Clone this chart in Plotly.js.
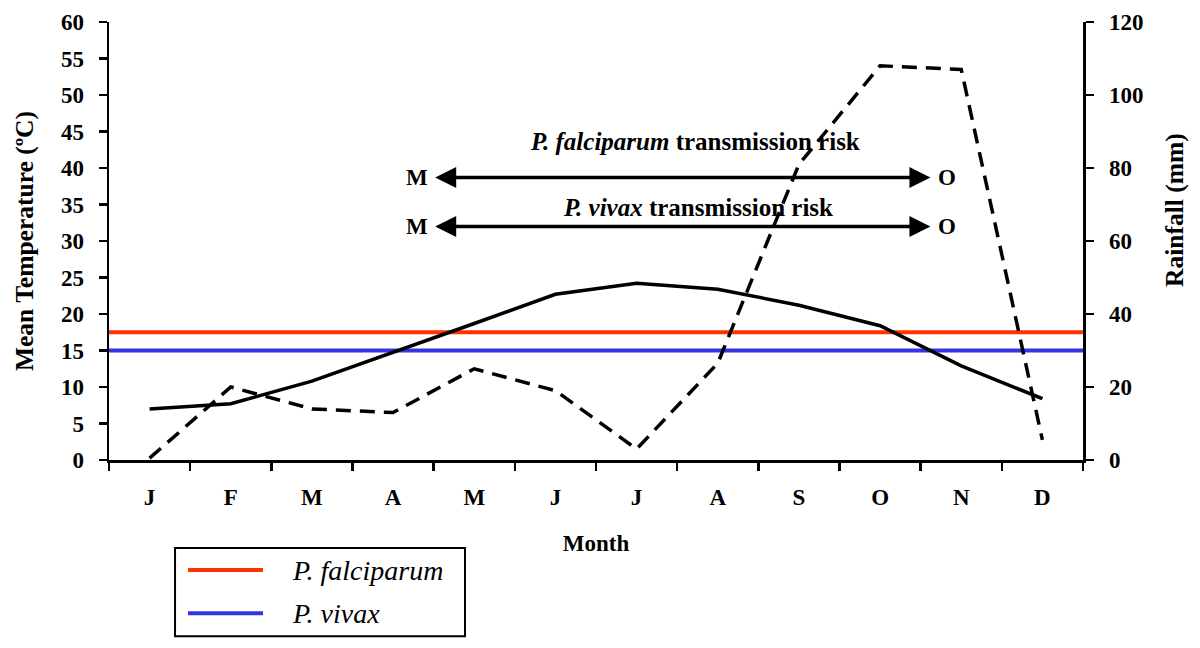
<!DOCTYPE html>
<html>
<head>
<meta charset="utf-8">
<script src="https://cdn.plot.ly/plotly-3.0.1.min.js"></script>
<style>html,body{margin:0;padding:0;background:#fff;}#chart{width:1200px;height:648px;}</style>
</head>
<body>
<div id="chart"></div>
<script>
// ---- data ----
var months = ['J','F','M','A','M','J','J','A','S','O','N','D'];
var meanTemperature = [7.0, 7.7, 10.8, 14.7, 18.7, 22.7, 24.2, 23.4, 21.2, 18.4, 12.9, 8.4];
var rainfall = [0.5, 20, 14, 13, 25, 19, 3, 26.5, 81, 108, 107, 5.5];
var thresholdNames = ['P. falciparum', 'P. vivax'];
var thresholdTemps = [17.5, 15];
var riskLabels = ['P. falciparum', 'P. vivax'];
var riskStart = 'M';
var riskEnd = 'O';
var leftTitle = 'Mean Temperature (ºC)';
var rightTitle = 'Rainfall (mm)';
var bottomTitle = 'Month';

var FONT = 'Liberation Serif, Times New Roman, serif';
var RED = '#ff3300', BLUE = '#3434e6';
var xIdx = months.map(function(_, i){ return i; });
var bounds = []; for (var b = 0; b <= months.length; b++) bounds.push(b - 0.5);
var xr = [-0.5, months.length - 0.5];

var traces = [
  {x: [xr[0], xr[1]], y: [thresholdTemps[0], thresholdTemps[0]], mode: 'lines', name: thresholdNames[0],
   line: {color: RED, width: 4}, showlegend: false, hoverinfo: 'skip'},
  {x: [xr[0], xr[1]], y: [thresholdTemps[1], thresholdTemps[1]], mode: 'lines', name: thresholdNames[1],
   line: {color: BLUE, width: 4}, showlegend: false, hoverinfo: 'skip'},
  {x: xIdx, y: meanTemperature, mode: 'lines', name: 'Mean Temperature',
   line: {color: '#000', width: 3.5}, showlegend: false},
  {x: xIdx, y: rainfall, mode: 'lines', name: 'Rainfall', yaxis: 'y2',
   line: {color: '#000', width: 3.5, dash: '15px,9px'}, showlegend: false}
];

var tickFont = {family: FONT, size: 23, color: '#000', weight: 'bold'};
var titleFont = {family: FONT, size: 23, color: '#000', weight: 'bold'};
var sideTitleFont = {family: FONT, size: 25.5, color: '#000', weight: 'bold'};
var annFont = {family: FONT, size: 25, color: '#000', weight: 'bold'};

// arrows / labels
var rows = [{y: 38.7, ty: 43.6, tx: 6.72}, {y: 32.0, ty: 34.6, tx: 6.76}];
var annotations = [];
rows.forEach(function(r, i){
  annotations.push({x: 9.62, y: r.y, ax: 3.5, ay: r.y, xref: 'x', yref: 'y', axref: 'x', ayref: 'y',
    text: '', showarrow: true, arrowside: 'end+start', arrowhead: 2, arrowsize: 1.2, arrowwidth: 3.5,
    arrowcolor: '#000', standoff: 0, startstandoff: 0});
  annotations.push({x: 3.3, y: r.y, xref: 'x', yref: 'y', text: '<b>' + riskStart + '</b>', showarrow: false,
    font: tickFont, xanchor: 'center', yanchor: 'middle'});
  annotations.push({x: 9.83, y: r.y, xref: 'x', yref: 'y', text: '<b>' + riskEnd + '</b>', showarrow: false,
    font: tickFont, xanchor: 'center', yanchor: 'middle'});
  annotations.push({x: r.tx, y: r.ty, xref: 'x', yref: 'y', text: '<b><i>' + riskLabels[i] + '</i> transmission risk</b>',
    showarrow: false, font: annFont, xanchor: 'center', yanchor: 'middle'});
});

// right-axis title (sits above the axis centre in the original)
annotations.push({x: 1.0945, y: 0.571, xref: 'paper', yref: 'paper', text: '<b>' + rightTitle + '</b>',
  textangle: -90, showarrow: false, xanchor: 'center', yanchor: 'middle', font: sideTitleFont});

// manual legend
var shapes = [
  {type: 'rect', xref: 'paper', yref: 'paper', x0: 0.0678, x1: 0.3655, y0: -0.2011, y1: -0.4023,
   line: {color: '#000', width: 2}, fillcolor: 'rgba(0,0,0,0)'},
  {type: 'line', xref: 'paper', yref: 'paper', x0: 0.0811, x1: 0.1581, y0: -0.2514, y1: -0.2514,
   line: {color: RED, width: 4}},
  {type: 'line', xref: 'paper', yref: 'paper', x0: 0.0811, x1: 0.1581, y0: -0.3497, y1: -0.3497,
   line: {color: BLUE, width: 4}}
];
var legFont = {family: FONT, size: 28, color: '#000', style: 'italic'};
annotations.push({x: 0.1858, y: -0.2514, xref: 'paper', yref: 'paper', text: '<i>' + thresholdNames[0] + '</i>',
  showarrow: false, xanchor: 'left', yanchor: 'middle', font: legFont});
annotations.push({x: 0.1858, y: -0.3497, xref: 'paper', yref: 'paper', text: '<i>' + thresholdNames[1] + '</i>',
  showarrow: false, xanchor: 'left', yanchor: 'middle', font: legFont});

var layout = {
  width: 1200, height: 648,
  margin: {l: 109, r: 117, t: 22, b: 188},
  paper_bgcolor: '#fff', plot_bgcolor: '#fff',
  showlegend: false,
  xaxis: {range: xr, tickmode: 'array', tickvals: xIdx, ticktext: months, ticks: '',
    showgrid: false, zeroline: false, showline: true, linecolor: '#000', linewidth: 2.5,
    tickfont: tickFont, ticklabelstandoff: 15,
    minor: {tickmode: 'array', tickvals: bounds, ticks: 'outside', ticklen: 8, tickwidth: 2.5, tickcolor: '#000', showgrid: false},
    title: {text: '<b>' + bottomTitle + '</b>', font: titleFont, standoff: 26}},
  xaxis3: {overlaying: 'x', anchor: 'y', range: xr, tickmode: 'array', tickvals: bounds, ticks: 'inside',
    ticklen: 8, tickwidth: 2.5, tickcolor: '#000', showticklabels: false, showgrid: false, zeroline: false, showline: false},
  yaxis: {range: [0, 60], dtick: 5, tick0: 0, ticks: 'outside', ticklen: 8, tickwidth: 2.5, tickcolor: '#000',
    showgrid: false, zeroline: false, showline: true, linecolor: '#000', linewidth: 2.5,
    tickfont: tickFont, ticklabelstandoff: 10,
    title: {text: '<b>' + leftTitle + '</b>', font: sideTitleFont, standoff: 20}},
  yaxis3: {overlaying: 'y', anchor: 'x', side: 'left', range: [0, 60], dtick: 5, tick0: 0, ticks: 'inside', ticklen: 8,
    tickwidth: 2.5, tickcolor: '#000', showticklabels: false, showgrid: false, zeroline: false, showline: false},
  yaxis2: {overlaying: 'y', side: 'right', anchor: 'x', range: [0, 120], dtick: 20, tick0: 0, ticks: 'outside', ticklen: 8,
    tickwidth: 2.5, tickcolor: '#000', showgrid: false, zeroline: false, showline: true, linecolor: '#000', linewidth: 2.5,
    tickfont: tickFont, ticklabelstandoff: 11},
  yaxis4: {overlaying: 'y', side: 'right', anchor: 'x', range: [0, 120], dtick: 20, tick0: 0, ticks: 'inside', ticklen: 8,
    tickwidth: 2.5, tickcolor: '#000', showticklabels: false, showgrid: false, zeroline: false, showline: false},
  annotations: annotations,
  shapes: shapes
};

Plotly.newPlot('chart', traces, layout, {staticPlot: true, displayModeBar: false});
</script>
</body>
</html>
